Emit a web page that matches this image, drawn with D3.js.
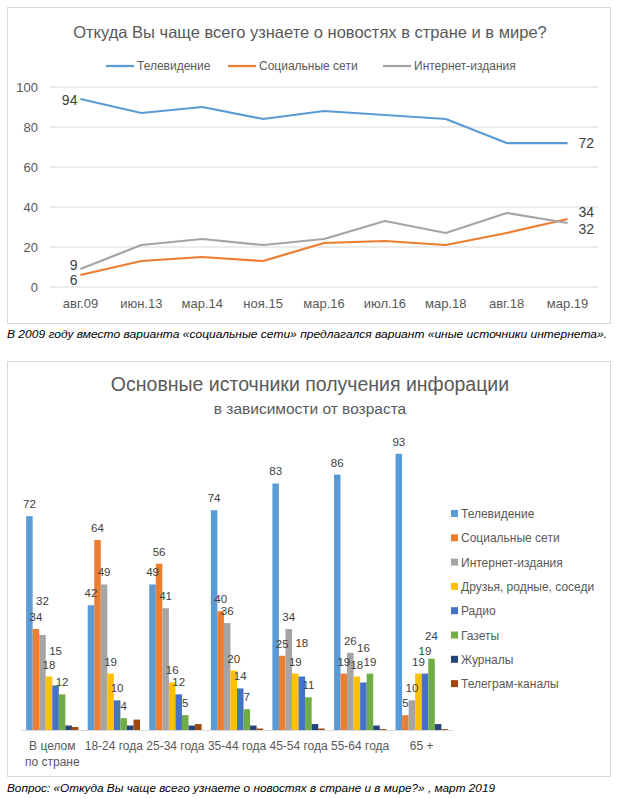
<!DOCTYPE html>
<html>
<head>
<meta charset="utf-8">
<script src="https://cdn.jsdelivr.net/npm/d3@7"></script>
<style>
  body { margin: 0; background: #fff; }
  svg { font-family: "Liberation Sans", Arial, sans-serif; }
</style>
</head>
<body>
<svg id="chart" width="620" height="799"></svg>
<script>
// --- top chart data ---
var periods = ["авг.09", "июн.13", "мар.14", "ноя.15", "мар.16", "июл.16", "мар.18", "авг.18", "мар.19"];
var tvTrend = [94, 87, 90, 84, 88, 86, 84, 72, 72];
var socialTrend = [6, 13, 15, 13, 22, 23, 21, 27, 34];
var internetTrend = [9, 21, 24, 21, 24, 33, 27, 37, 32];
var trendNames = ["Телевидение", "Социальные сети", "Интернет-издания"];
var trendTicks = [0, 20, 40, 60, 80, 100];

// --- bottom chart data ---
var ageGroups = ["В целом по стране", "18-24 года", "25-34 года", "35-44 года", "45-54 года", "55-64 года", "65 +"];
var sourceNames = ["Телевидение", "Социальные сети", "Интернет-издания", "Друзья, родные, соседи",
                   "Радио", "Газеты", "Журналы", "Телеграм-каналы"];
var tvByAge = [72, 42, 49, 74, 83, 86, 93];
var socialByAge = [34, 64, 56, 40, 25, 19, 5];
var internetByAge = [32, 49, 41, 36, 34, 26, 10];
var friendsByAge = [18, 19, 16, 20, 19, 18, 19];
var radioByAge = [15, 10, 12, 14, 18, 16, 19];
var pressByAge = [12, 4, 5, 7, 11, 19, 24];
var magazinesByAge = [1.5, 1.5, 1.5, 1.5, 2, 1.5, 2];
var telegramByAge = [1, 3.5, 2, 0.5, 0.5, 0.3, 0.3];
var labelledSeries = 6; // only first six series carry data labels

var officeColors = ["#5b9bd5", "#ed7d31", "#a5a5a5", "#ffc000", "#4472c4", "#70ad47", "#264478", "#9e480e"];

var svg = d3.select("#chart");
var axisText = "#595959";
var gridColor = "#d9d9d9";

// ================= top: line chart =================
svg.append("rect")
    .attr("x", 7.5).attr("y", 7.5).attr("width", 603).attr("height", 316)
    .attr("fill", "#fff").attr("stroke", gridColor);

svg.append("text")
    .attr("x", 310).attr("y", 38)
    .attr("text-anchor", "middle")
    .attr("font-size", 16.5)
    .attr("fill", axisText)
    .text("Откуда Вы чаще всего узнаете о новостях в стране и в мире?");

var x = d3.scalePoint().domain(periods).range([50, 598]).padding(0.5);
var y = d3.scaleLinear().domain([0, 100]).range([287, 87]);

var trendSeries = [tvTrend, socialTrend, internetTrend].map(function(vals, i) {
    return { name: trendNames[i], color: officeColors[i], values: vals };
});

// legend
var legendX = [106, 228, 383];
var lg = svg.selectAll(".tleg").data(trendSeries).enter().append("g")
    .attr("class", "tleg")
    .attr("transform", function(d, i) { return "translate(" + legendX[i] + ",66)"; });
lg.append("line").attr("x1", 0).attr("x2", 28).attr("y1", 0).attr("y2", 0)
    .attr("stroke", function(d) { return d.color; }).attr("stroke-width", 2.25);
lg.append("text").attr("x", 31).attr("y", 4).attr("font-size", 12).attr("fill", axisText)
    .text(function(d) { return d.name; });

// grid + y labels
svg.selectAll(".tgrid").data(trendTicks).enter().append("line")
    .attr("x1", 50).attr("x2", 598)
    .attr("y1", function(d) { return y(d); }).attr("y2", function(d) { return y(d); })
    .attr("stroke", gridColor);
svg.selectAll(".tylab").data(trendTicks).enter().append("text")
    .attr("x", 38).attr("y", function(d) { return y(d) + 4.5; })
    .attr("text-anchor", "end").attr("font-size", 13).attr("fill", axisText)
    .text(function(d) { return d; });

// x labels
svg.selectAll(".txlab").data(periods).enter().append("text")
    .attr("x", function(d) { return x(d); }).attr("y", 308)
    .attr("text-anchor", "middle").attr("font-size", 13).attr("fill", axisText)
    .text(function(d) { return d; });

var line = d3.line()
    .x(function(d, i) { return x(periods[i]); })
    .y(function(d) { return y(d); });

svg.selectAll(".tline").data(trendSeries).enter().append("path")
    .attr("d", function(d) { return line(d.values); })
    .attr("fill", "none")
    .attr("stroke", function(d) { return d.color; })
    .attr("stroke-width", 2.25)
    .attr("stroke-linejoin", "round");

// end labels: first point (left) and last point (right)
var firstDy = [1, 5, -4];   // nudges so 6 and 9 don't collide
var lastDy = [0, -7, 6];
var last = periods.length - 1;
trendSeries.forEach(function(s, i) {
    svg.append("text")
        .attr("x", x(periods[0]) - 3)
        .attr("y", y(s.values[0]) + 5 + firstDy[i])
        .attr("text-anchor", "end").attr("font-size", 14).attr("fill", "#404040")
        .text(s.values[0]);
    svg.append("text")
        .attr("x", x(periods[last]) + 11)
        .attr("y", y(s.values[last]) + 5 + lastDy[i])
        .attr("font-size", 14).attr("fill", "#404040")
        .text(s.values[last]);
});

svg.append("text")
    .attr("x", 7).attr("y", 338)
    .attr("font-size", 11).attr("font-style", "italic").attr("fill", "#000")
    .attr("textLength", 600).attr("lengthAdjust", "spacingAndGlyphs")
    .text("В 2009 году вместо варианта «социальные сети» предлагался вариант «иные источники интернета».");

// ================= bottom: grouped bars =================
svg.append("rect")
    .attr("x", 7.5).attr("y", 361.5).attr("width", 603).attr("height", 415)
    .attr("fill", "#fff").attr("stroke", gridColor);

svg.append("text")
    .attr("x", 310).attr("y", 391)
    .attr("text-anchor", "middle").attr("font-size", 19.5).attr("fill", axisText)
    .text("Основные источники получения инфорации");
svg.append("text")
    .attr("x", 310).attr("y", 414)
    .attr("text-anchor", "middle").attr("font-size", 15.5).attr("fill", axisText)
    .text("в зависимости от возраста");

var byAge = [tvByAge, socialByAge, internetByAge, friendsByAge, radioByAge, pressByAge, magazinesByAge, telegramByAge];

var x0 = d3.scaleBand().domain(ageGroups).range([21.5, 452.5]).paddingInner(0.15).paddingOuter(0.075);
var x1 = d3.scaleBand().domain(sourceNames).range([0, x0.bandwidth()]);
var yb = d3.scaleLinear().domain([0, 100]).range([730, 433]);

var groups = svg.selectAll(".grp").data(ageGroups).enter().append("g")
    .attr("class", "grp")
    .attr("transform", function(d) { return "translate(" + x0(d) + ",0)"; });

groups.selectAll("rect")
    .data(function(d, gi) { return sourceNames.map(function(s, si) { return { s: s, si: si, v: byAge[si][gi] }; }); })
    .enter().append("rect")
    .attr("x", function(d) { return x1(d.s); })
    .attr("width", x1.bandwidth())
    .attr("y", function(d) { return yb(d.v); })
    .attr("height", function(d) { return yb(0) - yb(d.v); })
    .attr("fill", function(d) { return officeColors[d.si]; });

// data labels; a label that would sit on an earlier one is lifted line by line until free
var labFont = 11.5, labStep = 11;
groups.each(function(g, gi) {
    var labs = [];
    sourceNames.slice(0, labelledSeries).forEach(function(s, si) {
        var v = byAge[si][gi];
        var c = { v: v, cx: x1(s) + x1.bandwidth() / 2, by: yb(v) - 8 };
        var hits = function(o) {
            var wSum = (String(o.v).length + String(c.v).length) * labFont * 0.28;
            return Math.abs(c.cx - o.cx) < wSum && Math.abs(c.by - o.by) < labStep;
        };
        var tries = 0;
        while (labs.some(hits) && tries < 4) { c.by -= labStep; tries++; }
        labs.push(c);
    });
    d3.select(this).selectAll("text.val").data(labs).enter().append("text")
        .attr("class", "val")
        .attr("x", function(d) { return d.cx; })
        .attr("y", function(d) { return d.by; })
        .attr("text-anchor", "middle").attr("font-size", labFont).attr("fill", "#404040")
        .text(function(d) { return d.v; });
});

svg.append("line")
    .attr("x1", 21).attr("x2", 453).attr("y1", 730.5).attr("y2", 730.5)
    .attr("stroke", gridColor);

svg.selectAll(".agelab").data(ageGroups).enter().append("text")
    .attr("text-anchor", "middle").attr("font-size", 12).attr("fill", axisText)
    .attr("x", function(d) { return x0(d) + x0.bandwidth() / 2; })
    .attr("y", 750)
    .each(function(d) {
        var t = d3.select(this);
        var parts = d === "В целом по стране" ? ["В целом", "по стране"] : [d];
        parts.forEach(function(p, k) {
            t.append("tspan").attr("x", x0(d) + x0.bandwidth() / 2).attr("dy", k ? 16 : 0).text(p);
        });
    });

// legend
var bl = svg.selectAll(".bleg").data(sourceNames).enter().append("g")
    .attr("transform", function(d, i) { return "translate(451," + (514 + i * 24.3) + ")"; });
bl.append("rect").attr("x", 0).attr("y", -4).attr("width", 7).attr("height", 7)
    .attr("fill", function(d, i) { return officeColors[i]; });
bl.append("text").attr("x", 10).attr("y", 4).attr("font-size", 12).attr("fill", axisText)
    .text(function(d) { return d; });

svg.append("text")
    .attr("x", 7).attr("y", 792)
    .attr("font-size", 11).attr("font-style", "italic").attr("fill", "#000")
    .attr("textLength", 488).attr("lengthAdjust", "spacingAndGlyphs")
    .text("Вопрос: «Откуда Вы чаще всего узнаете о новостях в стране и в мире?» , март 2019");
</script>
</body>
</html>
